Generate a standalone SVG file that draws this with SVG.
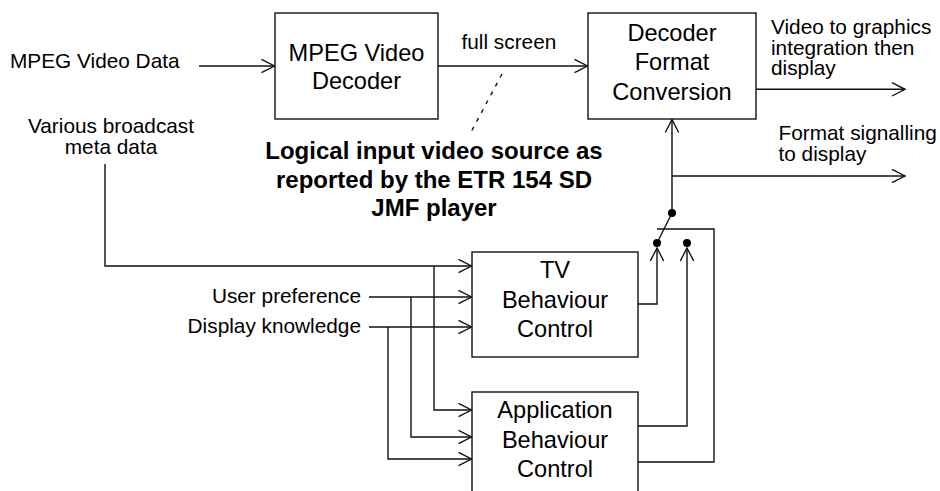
<svg xmlns="http://www.w3.org/2000/svg" width="940" height="491" viewBox="0 0 940 491">
<style>
  .box { fill: #fff; stroke: #111; stroke-width: 1.4; }
  .bt { font-family: "Liberation Sans", Arial, sans-serif; font-size: 23.6px; fill: #000; text-anchor: middle; }
  .lb { font-family: "Liberation Sans", Arial, sans-serif; font-size: 20.8px; fill: #000; }
  .bold { font-family: "Liberation Sans", Arial, sans-serif; font-size: 24px; font-weight: bold; fill: #000; text-anchor: middle; }
  .ln { fill: none; stroke: #111; stroke-width: 1.4; }
  .ar { fill: none; stroke: #111; stroke-width: 1.4; marker-end: url(#ah); }
  .dot { fill: #000; }
</style>
<defs>
  <marker id="ah" viewBox="-15 -9 17 18" refX="0" refY="0" markerWidth="17" markerHeight="18" markerUnits="userSpaceOnUse" orient="auto">
    <path d="M-13,-6.7 L0,0 L-13,6.7" fill="none" stroke="#111" stroke-width="1.4"/>
  </marker>
</defs>
<rect width="940" height="491" fill="#fff"/>

<g id="connectors">
  <path class="ar" d="M199,66 H274.5"/>
  <path class="ar" d="M438,66 H587.5"/>
  <path class="ar" d="M756,89.3 H905"/>
  <path class="ar" d="M672,176 H905"/>
  <path class="ar" d="M672,213 V119.5"/>
  <path class="ln" d="M672,213 L657,243"/>
  <path class="ar" d="M638,304 H657 V248"/>
  <path class="ar" d="M638,426 H687 V248"/>
  <path class="ln" d="M638,462 H714 V229 H657"/>
  <path class="ar" d="M105,164 V266 H471.5"/>
  <path class="ar" d="M434,266 V410 H471.5"/>
  <path class="ar" d="M369,297 H471.5"/>
  <path class="ar" d="M411,297 V437 H471.5"/>
  <path class="ar" d="M369,327 H471.5"/>
  <path class="ar" d="M388,327 V459 H471.5"/>
  <path class="ln" d="M502,74 L470,134" stroke-dasharray="4 6"/>
  <circle class="dot" cx="672" cy="213" r="4"/>
  <circle class="dot" cx="657" cy="243" r="4"/>
  <circle class="dot" cx="687" cy="243" r="4"/>
</g>

<g id="mpeg-decoder">
  <rect class="box" x="275" y="13" width="163" height="106"/>
  <text class="bt" x="356.5" y="61">MPEG Video</text>
  <text class="bt" x="356.5" y="89">Decoder</text>
</g>

<g id="decoder-format-conversion">
  <rect class="box" x="588" y="13" width="168" height="106"/>
  <text class="bt" x="672" y="41">Decoder</text>
  <text class="bt" x="672" y="70">Format</text>
  <text class="bt" x="672" y="100">Conversion</text>
</g>

<g id="tv-behaviour-control">
  <rect class="box" x="472" y="252" width="166" height="105"/>
  <text class="bt" x="555" y="278">TV</text>
  <text class="bt" x="555" y="308">Behaviour</text>
  <text class="bt" x="555" y="337">Control</text>
</g>

<g id="application-behaviour-control">
  <rect class="box" x="472" y="392" width="166" height="112"/>
  <text class="bt" x="555" y="418">Application</text>
  <text class="bt" x="555" y="447.5">Behaviour</text>
  <text class="bt" x="555" y="477">Control</text>
</g>

<g id="labels">
  <text class="lb" x="10" y="68">MPEG Video Data</text>
  <text class="lb" x="111" y="133" text-anchor="middle">Various broadcast</text>
  <text class="lb" x="111" y="154" text-anchor="middle">meta data</text>
  <text class="lb" x="461.5" y="49">full screen</text>
  <text class="lb" x="771" y="34">Video to graphics</text>
  <text class="lb" x="771" y="55">integration then</text>
  <text class="lb" x="771" y="75">display</text>
  <text class="lb" x="778.5" y="140">Format signalling</text>
  <text class="lb" x="778.5" y="160.5">to display</text>
  <text class="lb" x="361" y="303" text-anchor="end">User preference</text>
  <text class="lb" x="361" y="333" text-anchor="end">Display knowledge</text>
  <text class="bold" x="434" y="159">Logical input video source as</text>
  <text class="bold" x="434" y="188">reported by the ETR 154 SD</text>
  <text class="bold" x="434" y="216">JMF player</text>
</g>
</svg>
